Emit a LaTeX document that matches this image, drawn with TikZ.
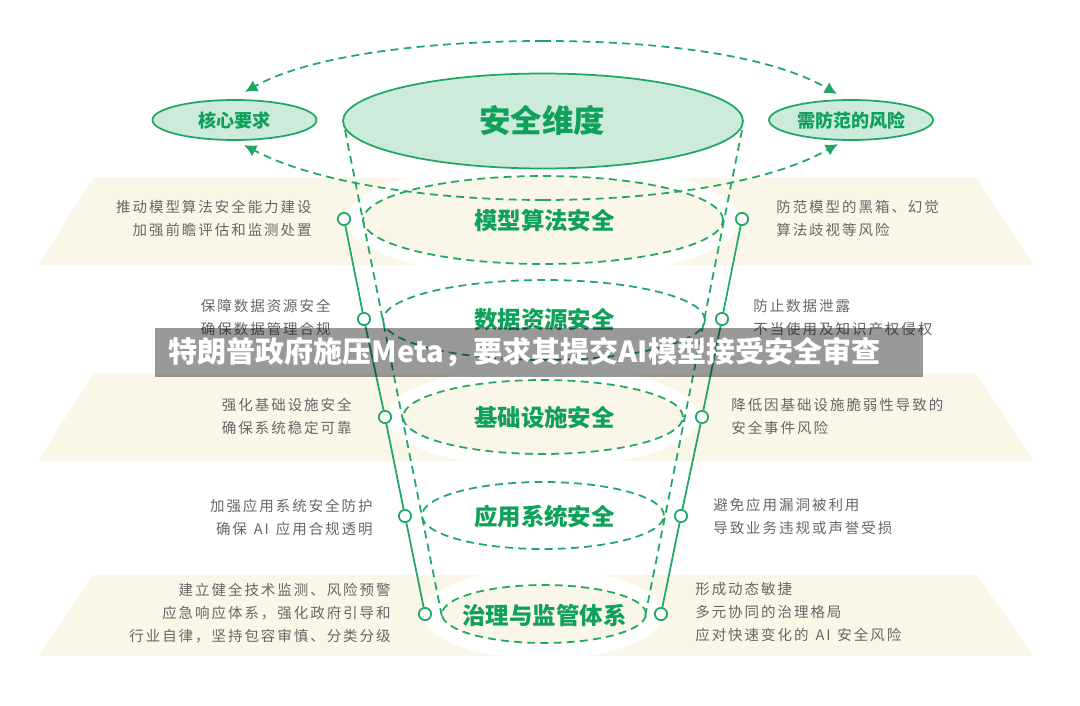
\documentclass[tikz,border=0pt]{standalone}
\usepackage{fontspec}
\setmainfont{Noto Sans CJK SC}
\newfontfamily\bodyfont[LetterSpace=13.5]{Noto Sans CJK SC}
\usetikzlibrary{shapes, arrows.meta}

\definecolor{leaf}{HTML}{1FA864}
\definecolor{leafdark}{HTML}{0FA05A}
\definecolor{mint}{HTML}{CDEBDB}
\definecolor{cream}{HTML}{FBF7E8}
\definecolor{ink}{HTML}{666666}

\tikzset{
	band/.style={fill=cream, draw=none},
	halo/.style={ellipse, fill=white, draw=none, inner sep=0pt},
	layer/.style={ellipse, draw=leaf, dash pattern=on 4.5pt off 3pt, line width=1pt, fill=cream, inner sep=0pt},
	solidoval/.style={ellipse, draw=leaf, line width=1pt, fill=mint, inner sep=0pt},
	layertext/.style={text=leafdark, font=\fontsize{13.35}{15}\bfseries},
	sidetext/.style={text=leafdark, font=\fontsize{10.3}{12}\bfseries},
	notes/.style={text=ink, font=\bodyfont\fontsize{8.25}{13.1}\selectfont, inner sep=0pt},
	dot/.style={circle, draw=leaf, fill=white, line width=1pt, minimum size=7pt, inner sep=0pt},
	funnel/.style={draw=leaf, dash pattern=on 4.5pt off 3pt, line width=1pt},
	swing/.style={draw=leaf, dash pattern=on 4.5pt off 3pt, line width=1pt, -{Latex[length=7pt,width=7pt]}},
	rail/.style={draw=leaf, line width=1pt},
}

\begin{document}
\begin{tikzpicture}[x=0.02cm, y=-0.02cm]
	\useasboundingbox (0,0) rectangle (1080,706);
	%Bands
		\fill[band] (93,178) -- (977,178) -- (1034,265) -- (38,265) -- cycle;
		\fill[band] (93,374) -- (977,374) -- (1034,461) -- (38,461) -- cycle;
		\fill[band] (93,575) -- (977,575) -- (1034,656) -- (38,656) -- cycle;
	%White rings
		\node[halo, minimum width=7.88cm, minimum height=2.32cm] (halo1) at (543,220) {};
		\node[halo, minimum width=6.24cm, minimum height=2.04cm] (halo3) at (543,417) {};
		\node[halo, minimum width=4.8cm, minimum height=1.8cm] (halo5) at (543,614) {};
	%Layers
		\node[layer, minimum width=7.2cm, minimum height=1.76cm] (model) at (543,220) {};
		\node[layer, minimum width=6.44cm, minimum height=1.6cm, fill=white] (data) at (544,320) {};
		\node[layer, minimum width=5.6cm, minimum height=1.48cm] (infra) at (543,417) {};
		\node[layer, minimum width=4.84cm, minimum height=1.34cm, fill=white] (app) at (543,515.5) {};
		\node[layer, minimum width=4.08cm, minimum height=1.16cm] (gov) at (544,614) {};
		\node[layertext] (modeltext) at (544.5,221) {模型算法安全};
		\node[layertext] (datatext) at (544.5,320) {数据资源安全};
		\node[layertext] (infratext) at (544.5,418) {基础设施安全};
		\node[layertext] (apptext) at (544.5,517) {应用系统安全};
		\node[layertext] (govtext) at (544.5,615) {治理与监管体系};
	%Top ovals
		\node[solidoval, minimum width=8cm, minimum height=1.9cm] (top) at (543,121) {};
		\node[text=leafdark, font=\fontsize{17.9}{20}\bfseries] (toptext) at (542,121) {安全维度};
		\node[solidoval, minimum width=3.28cm, minimum height=0.8cm] (need) at (234.5,120) {};
		\node[sidetext] (needtext) at (234.5,121) {核心要求};
		\node[solidoval, minimum width=3.28cm, minimum height=0.8cm] (risk) at (851,120) {};
		\node[sidetext] (risktext) at (851.5,121) {需防范的风险};
	%Funnel sides
		\coordinate (fl1) at (345,130);
		\coordinate (fl2) at (442,617);
		\coordinate (fr1) at (742,130);
		\coordinate (fr2) at (645,617);
		\draw[funnel] (fl1) -- (fl2);
		\draw[funnel] (fr1) -- (fr2);
	%Swing arrows
		\coordinate (upmid) at (543,41);
		\coordinate (upl) at (245,92);
		\coordinate (upr) at (837,94);
		\coordinate (lowmid) at (543,200);
		\coordinate (lowl) at (244,145);
		\coordinate (lowr) at (838,144);
		\draw[swing] (upmid) .. controls (430,41) and (310,55) .. (upl);
		\draw[swing] (upmid) .. controls (660,41) and (770,55) .. (upr);
		\draw[swing] (lowmid) .. controls (440,200) and (320,185) .. (lowl);
		\draw[swing] (lowmid) .. controls (650,200) and (765,185) .. (lowr);
	%Left line
		\node[dot] (l1) at (344,219) {};
		\node[dot] (l2) at (364,319) {};
		\node[dot] (l3) at (385,417) {};
		\node[dot] (l4) at (405,516) {};
		\node[dot] (l5) at (425,614) {};
		\draw[rail] (l1) -- (l2);
		\draw[rail] (l2) -- (l3);
		\draw[rail] (l3) -- (l4);
		\draw[rail] (l4) -- (l5);
	%Right line
		\node[dot] (r1) at (742,219) {};
		\node[dot] (r2) at (722,319) {};
		\node[dot] (r3) at (702,417) {};
		\node[dot] (r4) at (681,516) {};
		\node[dot] (r5) at (661,614) {};
		\draw[rail] (r1) -- (r2);
		\draw[rail] (r2) -- (r3);
		\draw[rail] (r3) -- (r4);
		\draw[rail] (r4) -- (r5);
	%Left notes
		\node[notes, align=right, anchor=east] (n1) at (312,218.5) {推动模型算法安全能力建设\\加强前瞻评估和监测处置};
		\node[notes, align=right, anchor=east] (n2) at (331,317.5) {保障数据资源安全\\确保数据管理合规};
		\node[notes, align=right, anchor=east] (n3) at (352,416.5) {强化基础设施安全\\确保系统稳定可靠};
		\node[notes, align=right, anchor=east] (n4) at (373,517) {加强应用系统安全防护\\确保~\hspace{1pt}AI~\hspace{1pt}应用合规透明};
		\node[notes, align=right, anchor=east] (n5) at (391,613) {建立健全技术监测、风险预警\\应急响应体系，强化政府引导和\\行业自律，坚持包容审慎、分类分级};
	%Right notes
		\node[notes, align=left, anchor=west] (m1) at (776,218.5) {防范模型的黑箱、幻觉\\算法歧视等风险};
		\node[notes, align=left, anchor=west] (m2) at (753,317.5) {防止数据泄露\\不当使用及知识产权侵权};
		\node[notes, align=left, anchor=west] (m3) at (731,416.5) {降低因基础设施脆弱性导致的\\安全事件风险};
		\node[notes, align=left, anchor=west] (m4) at (713,516) {避免应用漏洞被利用\\导致业务违规或声誉受损};
		\node[notes, align=left, anchor=west] (m5) at (695,612) {形成动态敏捷\\多元协同的治理格局\\应对快速变化的~\hspace{1pt}AI~\hspace{1pt}安全风险};
	%Banner
		\fill[black, opacity=0.4] (155,328) rectangle (923,377);
		\node[text=white, font=\fontsize{16.55}{18}\bfseries, inner sep=0pt, anchor=west] (banner) at (168,352) {特朗普政府施压Meta，要求其提交AI模型接受安全审查};
\end{tikzpicture}
\end{document}
